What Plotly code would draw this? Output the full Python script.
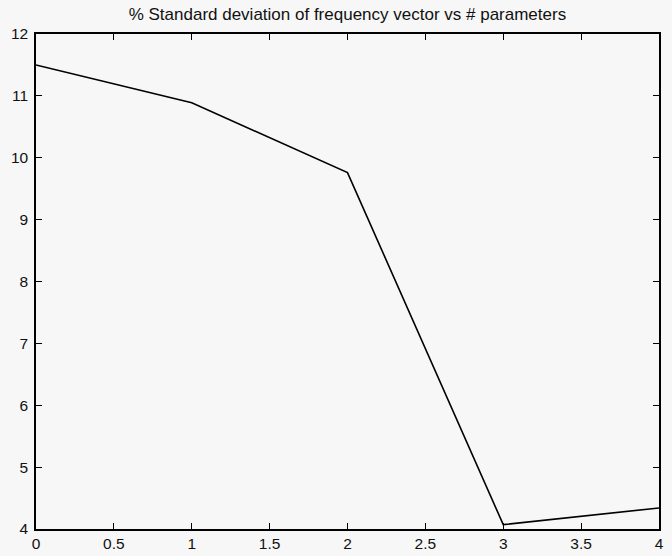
import plotly.graph_objects as go

# number of parameters and the % standard deviation of the frequency vector
n_params = [0, 1, 2, 3, 4]
pct_std = [11.5, 10.89, 9.76, 4.07, 4.34]

x_ticks = [0, 0.5, 1, 1.5, 2, 2.5, 3, 3.5, 4]
x_tick_text = ["0", "0.5", "1", "1.5", "2", "2.5", "3", "3.5", "4"]
y_ticks = [4, 5, 6, 7, 8, 9, 10, 11, 12]

FONT = "Liberation Sans, Arial, sans-serif"

fig = go.Figure(
    go.Scatter(
        x=n_params,
        y=pct_std,
        mode="lines",
        line=dict(color="black", width=1.6),
        hoverinfo="x+y",
    )
)

axis_style = dict(
    showline=True,
    linecolor="black",
    linewidth=1.5,
    mirror="ticks",
    ticks="inside",
    ticklen=6,
    tickwidth=1.2,
    tickcolor="black",
    showgrid=False,
    zeroline=False,
    automargin=False,
    tickfont=dict(family=FONT, size=15.5, color="#111111"),
)

fig.update_xaxes(
    range=[0, 4],
    tickvals=x_ticks,
    ticktext=x_tick_text,
    ticklabelstandoff=0,
    **axis_style,
)
fig.update_yaxes(
    range=[4, 12],
    tickvals=y_ticks,
    ticklabelstandoff=3,
    **axis_style,
)

fig.update_layout(
    width=672,
    height=556,
    margin=dict(l=36, r=13, t=34, b=27),
    paper_bgcolor="#f7f7f7",
    plot_bgcolor="#f7f7f7",
    showlegend=False,
    title=dict(
        text="% Standard deviation of frequency vector vs # parameters",
        x=0.517,
        xanchor="center",
        y=0.975,
        yanchor="middle",
        font=dict(family=FONT, size=17, color="#111111"),
    ),
)

fig.write_html("out.html")
